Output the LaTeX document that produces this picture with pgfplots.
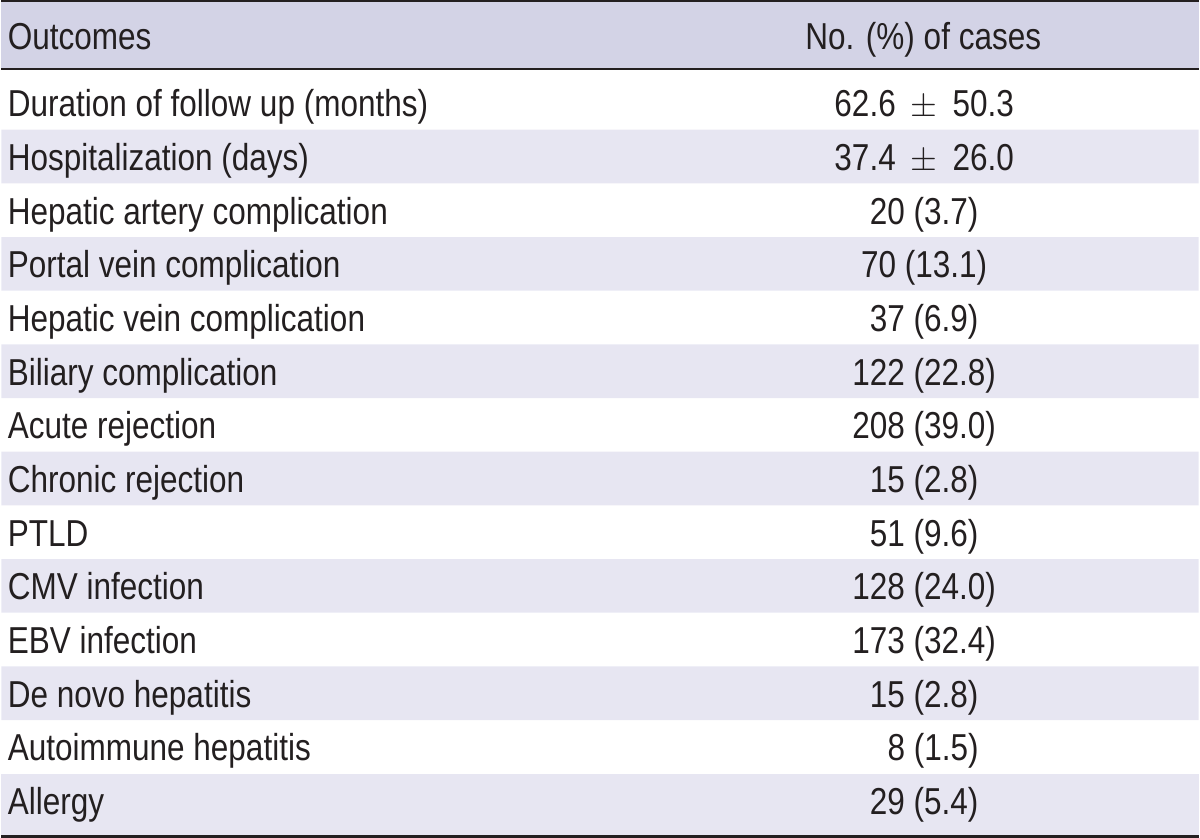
\documentclass[border=0pt]{standalone}
\usepackage{fontspec}
\setmainfont{Liberation Sans}[FakeStretch=0.84]
\usepackage{pgfplots}
\usepackage{pgfplotstable}
\pgfplotsset{compat=1.18}
\definecolor{hdr}{RGB}{211,211,230}
\definecolor{band}{RGB}{231,230,242}
\definecolor{rulec}{RGB}{35,31,32}

\pgfplotstableread[col sep=comma]{
y,vx,label,value
50,924,Outcomes,No. (\%) of cases
117,925,Duration of follow up (months),62.6\hspace{0.4em}$\pm$\hspace{0.4em}50.3
170.8,925,Hospitalization (days),37.4\hspace{0.4em}$\pm$\hspace{0.4em}26.0
224.6,925,Hepatic artery complication,20 (3.7)
278.4,925,Portal vein complication,70 (13.1)
332.2,925,Hepatic vein complication,37 (6.9)
386,925,Biliary complication,122 (22.8)
439.8,925,Acute rejection,208 (39.0)
493.6,925,Chronic rejection,15 (2.8)
547.4,925,PTLD,51 (9.6)
601.2,925,CMV infection,128 (24.0)
655,925,EBV infection,173 (32.4)
708.8,925,De novo hepatitis,15 (2.8)
762.6,934,Autoimmune hepatitis,8 (1.5)
816.4,925,Allergy,29 (5.4)
}\outcomes

\begin{document}
\begin{tikzpicture}
\begin{axis}[
  width=600pt, height=420pt, scale only axis,
  xmin=0, xmax=1200, ymin=0, ymax=840, y dir=reverse,
  hide axis, clip=false,
  every node near coord/.append style={font=\fontsize{18.8}{22}\selectfont, inner sep=0pt, text=rulec},
]
% header band
\addplot[xbar, bar width=67, fill=hdr, draw=none, mark=none] coordinates {(1200,35.5)};
% shaded rows
\addplot[xbar, bar width=53.8, fill=band, draw=none, mark=none] coordinates {
  (1200,156.9) (1200,264.5) (1200,372.1) (1200,479.7) (1200,587.3) (1200,694.9)};
\addplot[xbar, bar width=61.4, fill=band, draw=none, mark=none] coordinates {(1200,806.3)};
% rules
\addplot[rulec, line width=1pt, mark=none] coordinates {(0,1) (1200,1)};
\addplot[rulec, line width=1.25pt, mark=none] coordinates {(0,69.2) (1200,69.2)};
\addplot[rulec, line width=1.5pt, mark=none] coordinates {(0,838.5) (1200,838.5)};
% texts
\addplot[only marks, mark=none, nodes near coords, point meta=explicit symbolic,
  every node near coord/.append style={anchor=base west}]
  table[x expr=6, y=y, meta=label] {\outcomes};
\addplot[only marks, mark=none, nodes near coords, point meta=explicit symbolic,
  every node near coord/.append style={anchor=base}]
  table[x=vx, y=y, meta=value] {\outcomes};
\end{axis}
\end{tikzpicture}
\end{document}
